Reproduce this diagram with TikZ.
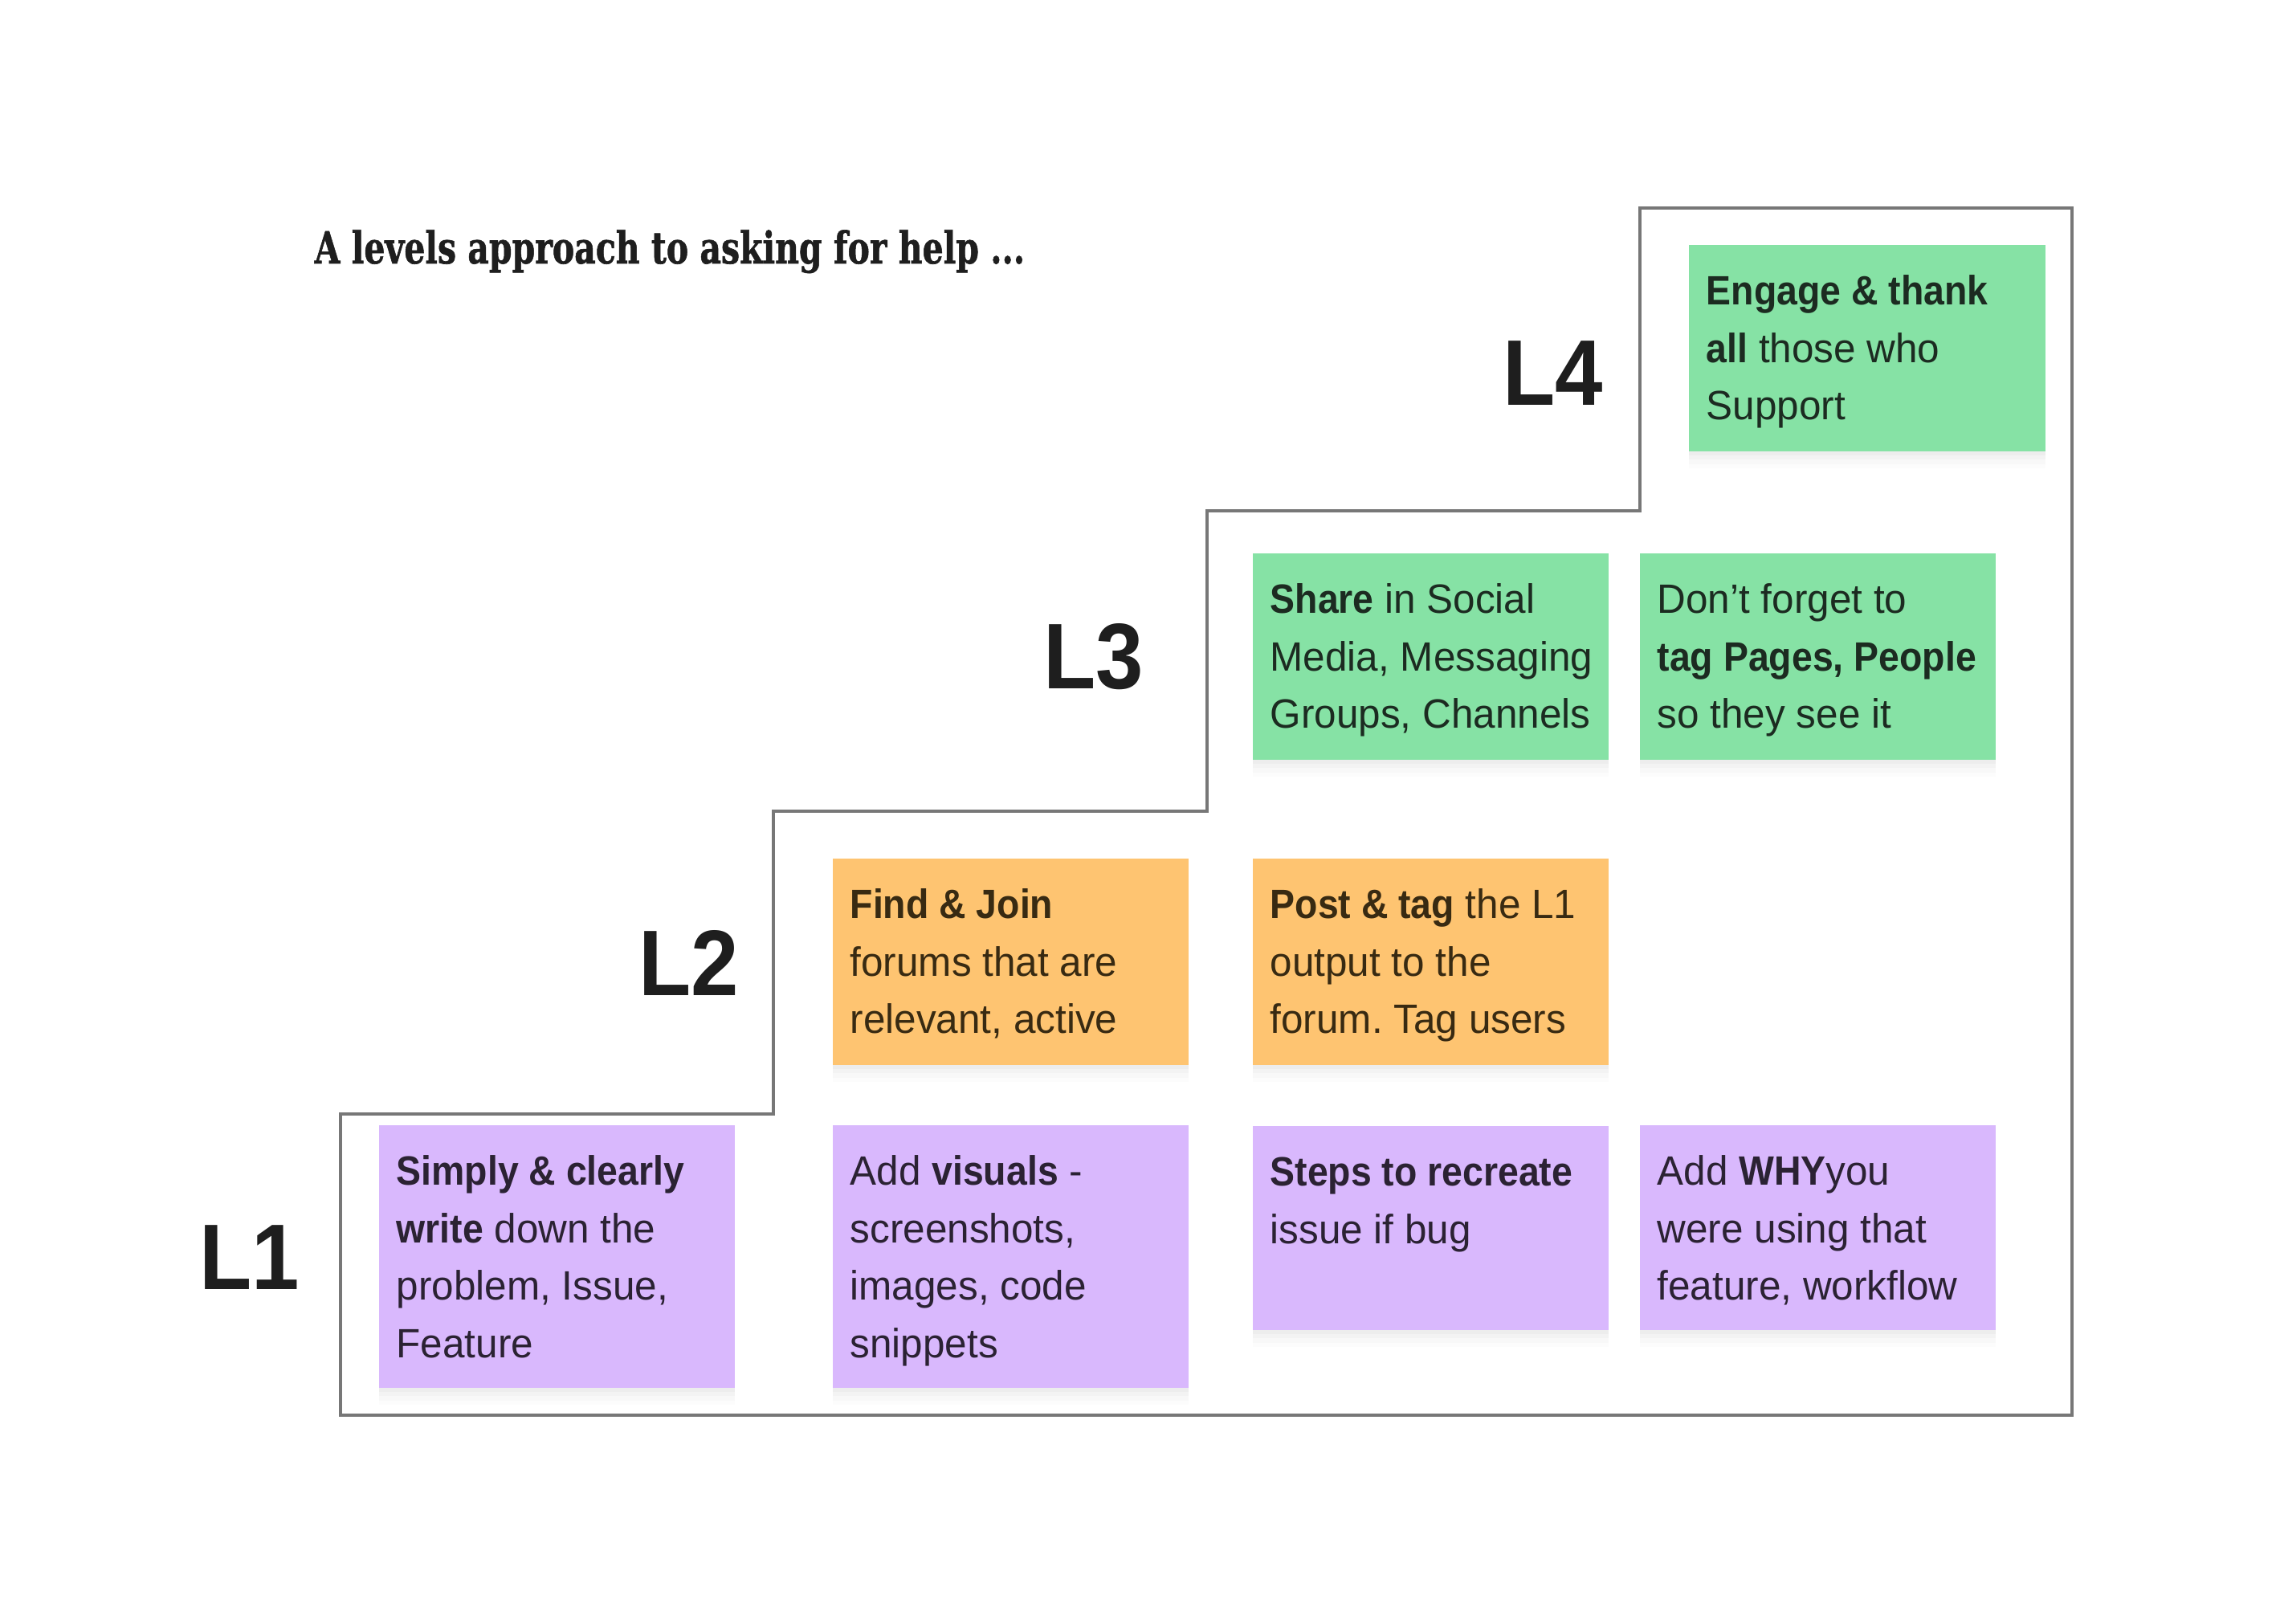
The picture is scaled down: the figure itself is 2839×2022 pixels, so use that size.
\documentclass[tikz,border=0pt]{standalone}
\usepackage{fontspec}
\usepackage{graphicx}
\setmainfont{Liberation Sans}[FakeStretch=0.97, BoldFeatures={FakeStretch=0.91}]
\newfontfamily\titlefont{DejaVu Serif}[BoldFeatures={FakeBold=1.2}]
\newfontfamily\lvlfont{Liberation Sans}[FakeStretch=0.92]
\usetikzlibrary{calc}
\definecolor{cgreen}{HTML}{86E2A5}
\definecolor{cpurple}{HTML}{D9B8FD}
\definecolor{corange}{HTML}{FEC471}
\definecolor{tgreen}{HTML}{1C2B21}
\definecolor{tpurple}{HTML}{2B2233}
\definecolor{torange}{HTML}{382A12}
\definecolor{border}{HTML}{777777}
\definecolor{ink}{HTML}{1E1E1E}
\begin{document}
\frenchspacing
\begin{tikzpicture}[x=0.01cm,y=-0.01cm,
  card/.style={rectangle, draw=none, anchor=north west, minimum width=4.43cm, inner sep=0pt,
    preaction={fill=black, fill opacity=0.025, transform canvas={yshift=-1.5pt}},
    preaction={fill=black, fill opacity=0.02, transform canvas={yshift=-3pt}},
    preaction={fill=black, fill opacity=0.015, transform canvas={yshift=-4.5pt}},
    preaction={fill=black, fill opacity=0.01, transform canvas={yshift=-6pt}}},
  tall/.style={minimum height=3.27cm},
  mid/.style={minimum height=2.57cm},
  txt/.style={anchor=north west, inner sep=0pt, align=left, font=\fontsize{14.5pt}{20.4pt}\selectfont},
  lvl/.style={font=\lvlfont\fontsize{33pt}{38pt}\selectfont\bfseries, text=ink, inner sep=0pt},
]
\useasboundingbox (0,0) rectangle (2839,2022);
\fill[white] (0,0) rectangle (2839,2022);

% title
\node[anchor=base west, inner sep=0pt, text=ink] (title) at (391,328)
  {\resizebox{251.5pt}{\height}{\titlefont\fontsize{15.6pt}{18pt}\selectfont\bfseries A levels approach to asking for help ...}};

% staircase outline
\draw[border, line width=1.1pt] (424,1762) -- (424,1387) -- (963,1387) -- (963,1010) -- (1503,1010)
  -- (1503,636) -- (2042,636) -- (2042,259) -- (2580,259) -- (2580,1762) -- cycle;

% level labels
\node[lvl] (L1) at (311,1566) {L1};
\node[lvl] (L2) at (858,1199) {L2};
\node[lvl] (L3) at (1362,818) {L3};
\node[lvl] (L4) at (1934,465) {L4};

% L4
\node[card, mid, fill=cgreen, minimum width=4.44cm] (b4) at (2102,304) {};
\node[txt, text=tgreen] (t4) at ($(b4.north west)+(22,36)$)
  {\rule{0pt}{11pt}\textbf{Engage \& thank}\\\textbf{all} those who\\Support};

% L3
\node[card, mid, fill=cgreen] (b3a) at (1559,688) {};
\node[txt, text=tgreen] (t3a) at ($(b3a.north west)+(22,36)$)
  {\rule{0pt}{11pt}\textbf{Share} in Social\\Media, Messaging\\Groups, Channels};
\node[card, mid, fill=cgreen] (b3b) at (2041,688) {};
\node[txt, text=tgreen] (t3b) at ($(b3b.north west)+(22,36)$)
  {\rule{0pt}{11pt}Don’t forget to\\\textbf{tag Pages, People}\\so they see it};

% L2
\node[card, mid, fill=corange] (b2a) at (1036,1068) {};
\node[txt, text=torange] (t2a) at ($(b2a.north west)+(22,36)$)
  {\rule{0pt}{11pt}\textbf{Find \& Join}\\forums that are\\relevant, active};
\node[card, mid, fill=corange] (b2b) at (1559,1068) {};
\node[txt, text=torange] (t2b) at ($(b2b.north west)+(22,36)$)
  {\rule{0pt}{11pt}\textbf{Post \& tag} the L1\\output to the\\forum. Tag users};

% L1
\node[card, tall, fill=cpurple] (b1a) at (471,1400) {};
\node[txt, text=tpurple] (t1a) at ($(b1a.north west)+(22,36)$)
  {\rule{0pt}{11pt}\textbf{Simply \& clearly}\\\textbf{write} down the\\problem, Issue,\\Feature};
\node[card, tall, fill=cpurple] (b1b) at (1036,1400) {};
\node[txt, text=tpurple] (t1b) at ($(b1b.north west)+(22,36)$)
  {\rule{0pt}{11pt}Add \textbf{visuals} -\\screenshots,\\images, code\\snippets};
\node[card, fill=cpurple, minimum height=2.54cm] (b1c) at (1559,1401) {};
\node[txt, text=tpurple] (t1c) at ($(b1c.north west)+(22,36)$)
  {\rule{0pt}{11pt}\textbf{Steps to recreate}\\issue if bug};
\node[card, fill=cpurple, minimum height=2.55cm] (b1d) at (2041,1400) {};
\node[txt, text=tpurple] (t1d) at ($(b1d.north west)+(22,36)$)
  {\rule{0pt}{11pt}Add \textbf{WHY}you\\were using that\\feature, workflow};
\end{tikzpicture}
\end{document}
